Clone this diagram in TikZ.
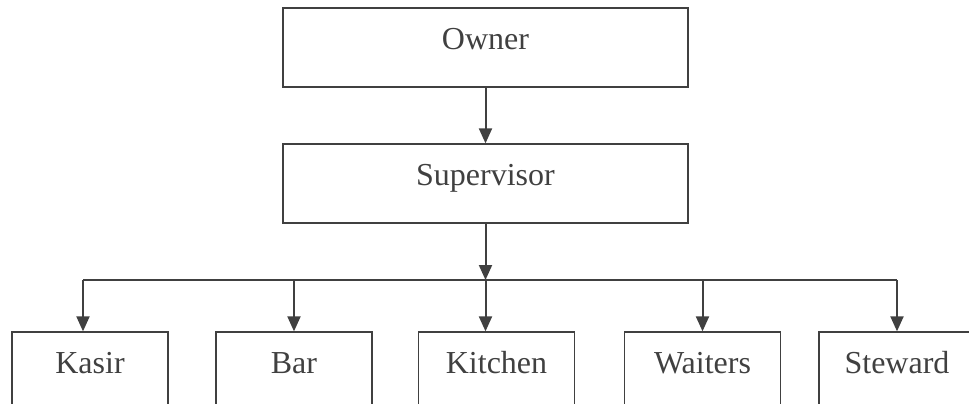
\documentclass[tikz,border=0pt]{standalone}
\usepackage{fontspec}
\setmainfont{Liberation Serif}
\usetikzlibrary{arrows.meta, calc}
\definecolor{inkgray}{RGB}{64, 64, 64}

\begin{document}
\begin{tikzpicture}[x=0.5pt, y=-0.5pt,
    unit/.style={draw=inkgray, line width=0.65pt, inner sep=0pt, align=center,
                 text width=#1, text height=20.75pt, text depth=18.75pt,
                 text=inkgray, font=\fontsize{16}{19}\selectfont},
    link/.style={draw=inkgray, line width=1pt,
                 -{Triangle[width=6.5pt, length=7.5pt]}},
    bus/.style={draw=inkgray, line width=0.8pt}
]
    \clip (0,0) rectangle (969,403);

    \node[unit=202.5pt] (owner) at (485.5,47.5) {Owner};
    \node[unit=202.5pt] (super) at (485.5,183.5) {Supervisor};

    \node[unit=78pt] (kasir)   at (90,371.5)    {Kasir};
    \node[unit=78pt] (bar)     at (294,371.5)   {Bar};
    \node[unit=78pt] (kitchen) at (496.5,371.5) {Kitchen};
    \node[unit=78pt] (waiters) at (702.5,371.5) {Waiters};
    \node[unit=78pt] (steward) at (897,371.5)   {Steward};

    \coordinate (hub) at (485.5,280);

    \draw[link] (owner.south) -- (super.north);
    \draw[link] (super.south) -- (hub);
    \draw[bus] ($(kasir.north |- hub)+(-7,0)$) -- (steward.north |- hub);

    \draw[link] ($(kasir.north |- hub)+(-7,0)$) -- ($(kasir.north)+(-7,0)$);
    \draw[link] (bar.north |- hub) -- (bar.north);
    \draw[link] (hub) -- (kitchen.north -| hub);
    \draw[link] (waiters.north |- hub) -- (waiters.north);
    \draw[link] (steward.north |- hub) -- (steward.north);
\end{tikzpicture}
\end{document}
